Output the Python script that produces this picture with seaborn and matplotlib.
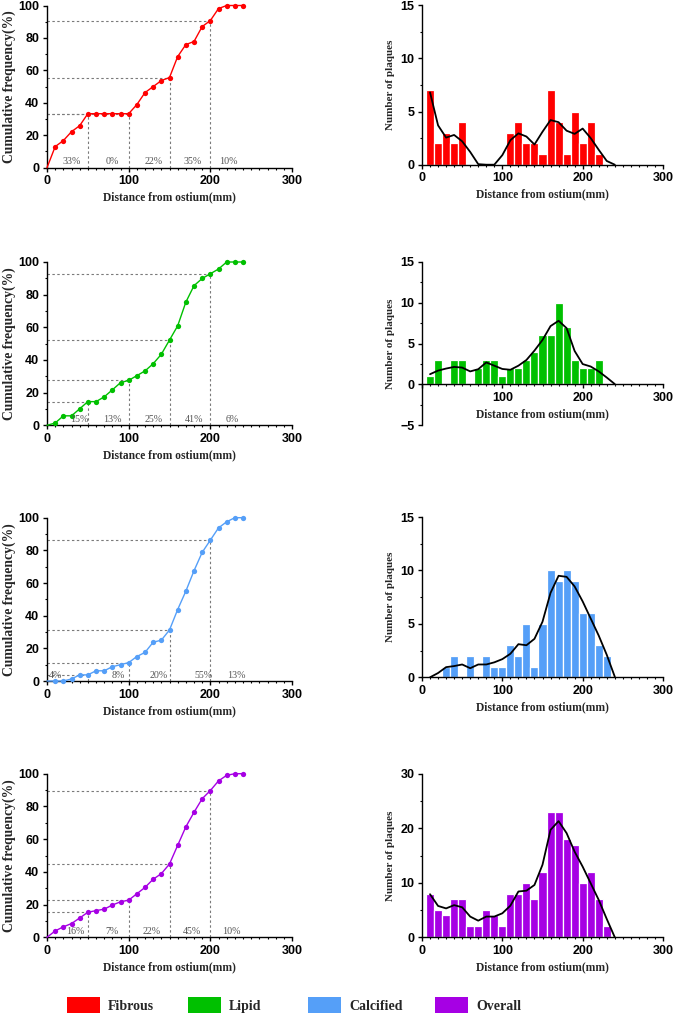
import seaborn as sns
import matplotlib.pyplot as plt
from matplotlib.patches import Patch
from matplotlib.ticker import MultipleLocator

# distance from ostium (mm), bin centres
distance = [10, 20, 30, 40, 50, 60, 70, 80, 90, 100, 110, 120,
            130, 140, 150, 160, 170, 180, 190, 200, 210, 220, 230, 240]
cum_distance = [0] + distance

# plaque counts per 10 mm bin
fibrous_counts = [7, 2, 3, 2, 4, 0, 0, 0, 0, 0, 3, 4, 2, 2, 1, 7, 4, 1, 5, 2, 4, 1, 0, 0]
lipid_counts = [1, 3, 0, 3, 3, 0, 2, 3, 3, 1, 2, 2, 3, 4, 6, 6, 10, 7, 3, 2, 2, 3, 0, 0]
calcified_counts = [0, 0, 1, 2, 0, 2, 0, 2, 1, 1, 3, 2, 5, 1, 5, 10, 9, 10, 9, 6, 6, 3, 2, 0]
overall_counts = [8, 5, 4, 7, 7, 2, 2, 5, 4, 2, 8, 8, 10, 7, 12, 23, 23, 18, 17, 10, 12, 7, 2, 0]

# cumulative frequency (%), x = 0..240
fibrous_cum = [0, 13.0, 16.7, 22.2, 25.9, 33.3, 33.3, 33.3, 33.3, 33.3, 33.3, 38.9, 46.3,
               50.0, 53.7, 55.6, 68.5, 75.9, 77.8, 87.0, 90.7, 98.1, 100, 100, 100]
lipid_cum = [0, 1.4, 5.8, 5.8, 10.1, 14.5, 14.5, 17.4, 21.7, 26.1, 27.5, 30.4, 33.3,
             37.7, 43.5, 52.2, 60.9, 75.4, 85.5, 89.9, 92.8, 95.7, 100, 100, 100]
calcified_cum = [0, 0, 0, 1.25, 3.75, 3.75, 6.25, 6.25, 8.75, 10.0, 11.25, 15.0, 17.5,
                 23.75, 25.0, 31.25, 43.75, 55.0, 67.5, 78.75, 86.25, 93.75, 97.5, 100, 100]
overall_cum = [0, 3.9, 6.4, 8.4, 11.8, 15.3, 16.3, 17.2, 19.7, 21.7, 22.7, 26.6, 30.5,
               35.5, 38.9, 44.8, 56.2, 67.5, 76.4, 84.7, 89.7, 95.6, 99.0, 100, 100]

# smoothed density curve (count scale)
fibrous_kde = [6.8, 3.7, 2.55, 2.8, 2.2, 1.2, 0.05, 0, 0, 0.9, 2.3, 2.95, 2.65, 1.9,
               3.1, 4.2, 4.0, 3.2, 2.9, 3.4, 2.5, 1.4, 0.35, 0]
lipid_kde = [1.26, 1.7, 1.95, 2.15, 2.07, 1.6, 1.87, 2.7, 2.3, 1.9, 1.8, 2.3, 3.0, 4.15,
             5.45, 7.15, 7.8, 6.9, 4.1, 2.5, 2.2, 1.6, 0.85, 0.05]
calcified_kde = [0, 0.4, 0.95, 1.05, 1.2, 0.85, 1.2, 1.2, 1.4, 1.7, 2.2, 3.1, 3.0, 3.6,
                 5.2, 7.9, 9.5, 9.4, 8.5, 7.1, 5.5, 3.9, 2.1, 0.05]
overall_kde = [7.9, 5.75, 5.3, 5.9, 5.5, 3.8, 3.05, 3.8, 3.8, 4.4, 5.8, 8.4, 8.55, 9.6,
               13.3, 19.7, 21.3, 19.1, 15.7, 12.95, 9.9, 6.85, 3.35, 0]

# segment percentages and where they are written
fibrous_pct = ['33%', '0%', '22%', '35%', '10%']
lipid_pct = ['15%', '13%', '25%', '41%', '6%']
calcified_pct = ['4%', '8%', '20%', '55%', '13%']
overall_pct = ['16%', '7%', '22%', '45%', '10%']
fibrous_pct_x = [30, 80, 130, 178, 222]
lipid_pct_x = [40, 80, 130, 180, 227]
calcified_pct_x = [10, 87, 137, 192, 232]
overall_pct_x = [35, 80, 128, 178, 226]

cutoffs = [50, 100, 150, 200]
names = ['Fibrous', 'Lipid', 'Calcified', 'Overall']
colors = ['#ff0000', '#00c000', '#559ff8', '#a600e4']

sns.set_style('ticks')
plt.rcParams['font.family'] = ['Liberation Sans', 'DejaVu Sans']
plt.rcParams['font.weight'] = 'bold'

W, H = 680, 1015
fig = plt.figure(figsize=(W / 100, H / 100), dpi=100)

# axes boxes in pixels: (top, bottom)
left_rows = [(5.5, 167.7), (262, 425.3), (517.7, 681), (773.7, 937.3)]
right_rows = [(5.3, 164.7), (262, 425.3), (517, 677.3), (773.7, 937.3)]
right_ylims = [(0, 15), (-5, 15), (0, 15), (0, 30)]
right_major = [5, 5, 5, 10]

serif = 'Liberation Serif'


def style_axis(ax):
    sns.despine(ax=ax)
    for s in ['left', 'bottom']:
        ax.spines[s].set_linewidth(1.0)
        ax.spines[s].set_color('black')
    ax.tick_params(which='major', direction='out', length=3, width=1, pad=2.5,
                   colors='black', labelsize=9)
    ax.tick_params(which='minor', direction='out', length=1.6, width=0.8, colors='black')


cum_sets = [fibrous_cum, lipid_cum, calcified_cum, overall_cum]
count_sets = [fibrous_counts, lipid_counts, calcified_counts, overall_counts]
kde_sets = [fibrous_kde, lipid_kde, calcified_kde, overall_kde]
pct_sets = [fibrous_pct, lipid_pct, calcified_pct, overall_pct]
pct_x_sets = [fibrous_pct_x, lipid_pct_x, calcified_pct_x, overall_pct_x]

for i in range(4):
    color = colors[i]
    cum = cum_sets[i]

    # ---- cumulative frequency panel
    top, bot = left_rows[i]
    ax = fig.add_axes([47 / W, 1 - bot / H, 245 / W, (bot - top) / H])
    sns.lineplot(x=cum_distance, y=cum, ax=ax, color=color, linewidth=1.0,
                 marker='o', markersize=3.8, markeredgewidth=0,
                 markevery=list(range(1, len(cum))), clip_on=False, zorder=3)
    for c in cutoffs:
        v = cum[cum_distance.index(c)]
        ax.plot([0, c], [v, v], color='#7a7a7a', lw=0.8, ls=(0, (2.2, 2.2)), zorder=1)
        ax.plot([c, c], [0, v], color='#7a7a7a', lw=0.8, ls=(0, (2.2, 2.2)), zorder=1)
    for txt, tx in zip(pct_sets[i], pct_x_sets[i]):
        ax.text(tx, 3.6, txt, ha='center', va='center', fontsize=7.2,
                family=serif, weight='normal', color='#555555')
    ax.set_xlim(0, 300)
    ax.set_ylim(0, 100)
    ax.xaxis.set_major_locator(MultipleLocator(100))
    ax.xaxis.set_minor_locator(MultipleLocator(10))
    ax.yaxis.set_major_locator(MultipleLocator(20))
    ax.yaxis.set_minor_locator(MultipleLocator(10))
    ax.set_xlabel('Distance from ostium(mm)', family=serif, weight='bold',
                  fontsize=8.3, labelpad=3)
    ax.set_ylabel('Cumulative frequency(%)', family=serif, weight='bold', fontsize=9.8)
    ax.yaxis.set_label_coords(-0.128, 0.5)
    style_axis(ax)

    # ---- histogram panel
    top, bot = right_rows[i]
    ax = fig.add_axes([422 / W, 1 - bot / H, 241 / W, (bot - top) / H])
    sns.histplot(x=distance, weights=count_sets[i], binwidth=10, binrange=(5, 245),
                 color=color, alpha=1, edgecolor='white', linewidth=0.9, ax=ax)
    sns.lineplot(x=distance, y=kde_sets[i], ax=ax, color='black', linewidth=1.3, zorder=4)
    ax.set_xlim(0, 300)
    ax.set_ylim(*right_ylims[i])
    ax.xaxis.set_major_locator(MultipleLocator(100))
    ax.xaxis.set_minor_locator(MultipleLocator(10))
    ax.yaxis.set_major_locator(MultipleLocator(right_major[i]))
    ax.yaxis.set_minor_locator(MultipleLocator(right_major[i] / 2))
    if right_ylims[i][0] < 0:
        ax.spines['bottom'].set_position(('data', 0))
        ax.set_xticks([0, 100, 200, 300])
        ax.set_xticklabels(['', '100', '200', '300'])
    ax.set_xlabel('Distance from ostium(mm)', family=serif, weight='bold',
                  fontsize=8.3, labelpad=3)
    ax.set_ylabel('Number of plaques', family=serif, weight='bold', fontsize=8)
    ax.yaxis.set_label_coords(-0.112, 0.5)
    style_axis(ax)

# ---- legend row
legend_x = [67, 188, 308, 435]
for name, color, lx in zip(names, colors, legend_x):
    fig.legend(handles=[Patch(facecolor=color, edgecolor='none', label=name)],
               loc='center left', bbox_to_anchor=(lx / W, 1 - 1005 / H),
               frameon=False, borderpad=0, borderaxespad=0,
               handlelength=2.35, handleheight=1.3, handletextpad=0.6,
               prop=dict(family=serif, weight='bold', size=10))

fig.savefig('out.png', dpi=100)
